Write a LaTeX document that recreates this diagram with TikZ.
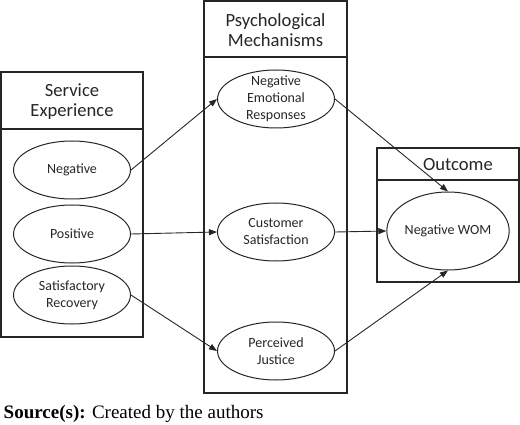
\documentclass[tikz,border=0pt]{standalone}
\usepackage{fontspec}
\setmainfont{Liberation Serif}
\newfontfamily\figfont{Carlito}
\usetikzlibrary{shapes.geometric, arrows.meta}

\begin{document}
\begin{tikzpicture}[x=1pt,y=-1pt,thick,
    group/.style={draw=frame,line width=1.3pt,inner sep=0pt},
    heading/.style={align=center,text=frame,font=\figfont\fontsize{18.6}{20}\selectfont},
    factor/.style={draw=frame,ellipse,line width=1pt,minimum width=117,minimum height=58,
      inner sep=0pt,inner ysep=-4pt,align=center,text=frame,
      font=\figfont\fontsize{14}{17}\selectfont},
    link/.style={draw=frame,line width=0.9pt,-{Triangle[length=8pt,width=6pt]}}]
  \colorlet{frame}{black!85}

  \useasboundingbox (0,0) rectangle (520,425);

  % the three groups
  \node [group,minimum width=142,minimum height=265] (svc) at (72,204.5) {};
  \node [group,minimum width=143,minimum height=392] (psy) at (275.5,197) {};
  \node [group,minimum width=142,minimum height=134] (out) at (448,215) {};

  \draw [group] (svc.west |- 0,129) -- (svc.east |- 0,129);
  \draw [group] (psy.west |- 0,57)  -- (psy.east |- 0,57);
  \draw [group] (out.west |- 0,180) -- (out.east |- 0,180);

  \node [heading] (svc title) at (72,101.5) {Service\\Experience};
  \node [heading] (psy title) at (275.5,30) {Psychological\\Mechanisms};
  \node [heading] (out title) at (458,165) {Outcome};

  % factors
  \node [factor] (neg) at (72,170) {Negative};
  \node [factor] (pos) at (72,234) {Positive};
  \node [factor] (rec) at (72,295) {Satisfactory\\Recovery};

  \node [factor] (emo) at (276,99)  {Negative\\Emotional\\Responses};
  \node [factor] (sat) at (276,232) {Customer\\Satisfaction};
  \node [factor] (jus) at (276,351) {Perceived\\Justice};

  \node [factor,minimum width=118,minimum height=78] (wom) at (448,231) {Negative WOM};

  \foreach \from/\to in {neg.east/emo.west, pos.east/sat.west, rec.east/jus.west,
                         emo.east/wom.north, sat.east/wom.west, jus.east/wom.south}
    \draw [link] (\from) -- (\to);

  \node [anchor=base west,font=\fontsize{19}{22}\selectfont] (source) at (0,418)
    {\textbf{Source(s):} Created by the authors};
\end{tikzpicture}
\end{document}
